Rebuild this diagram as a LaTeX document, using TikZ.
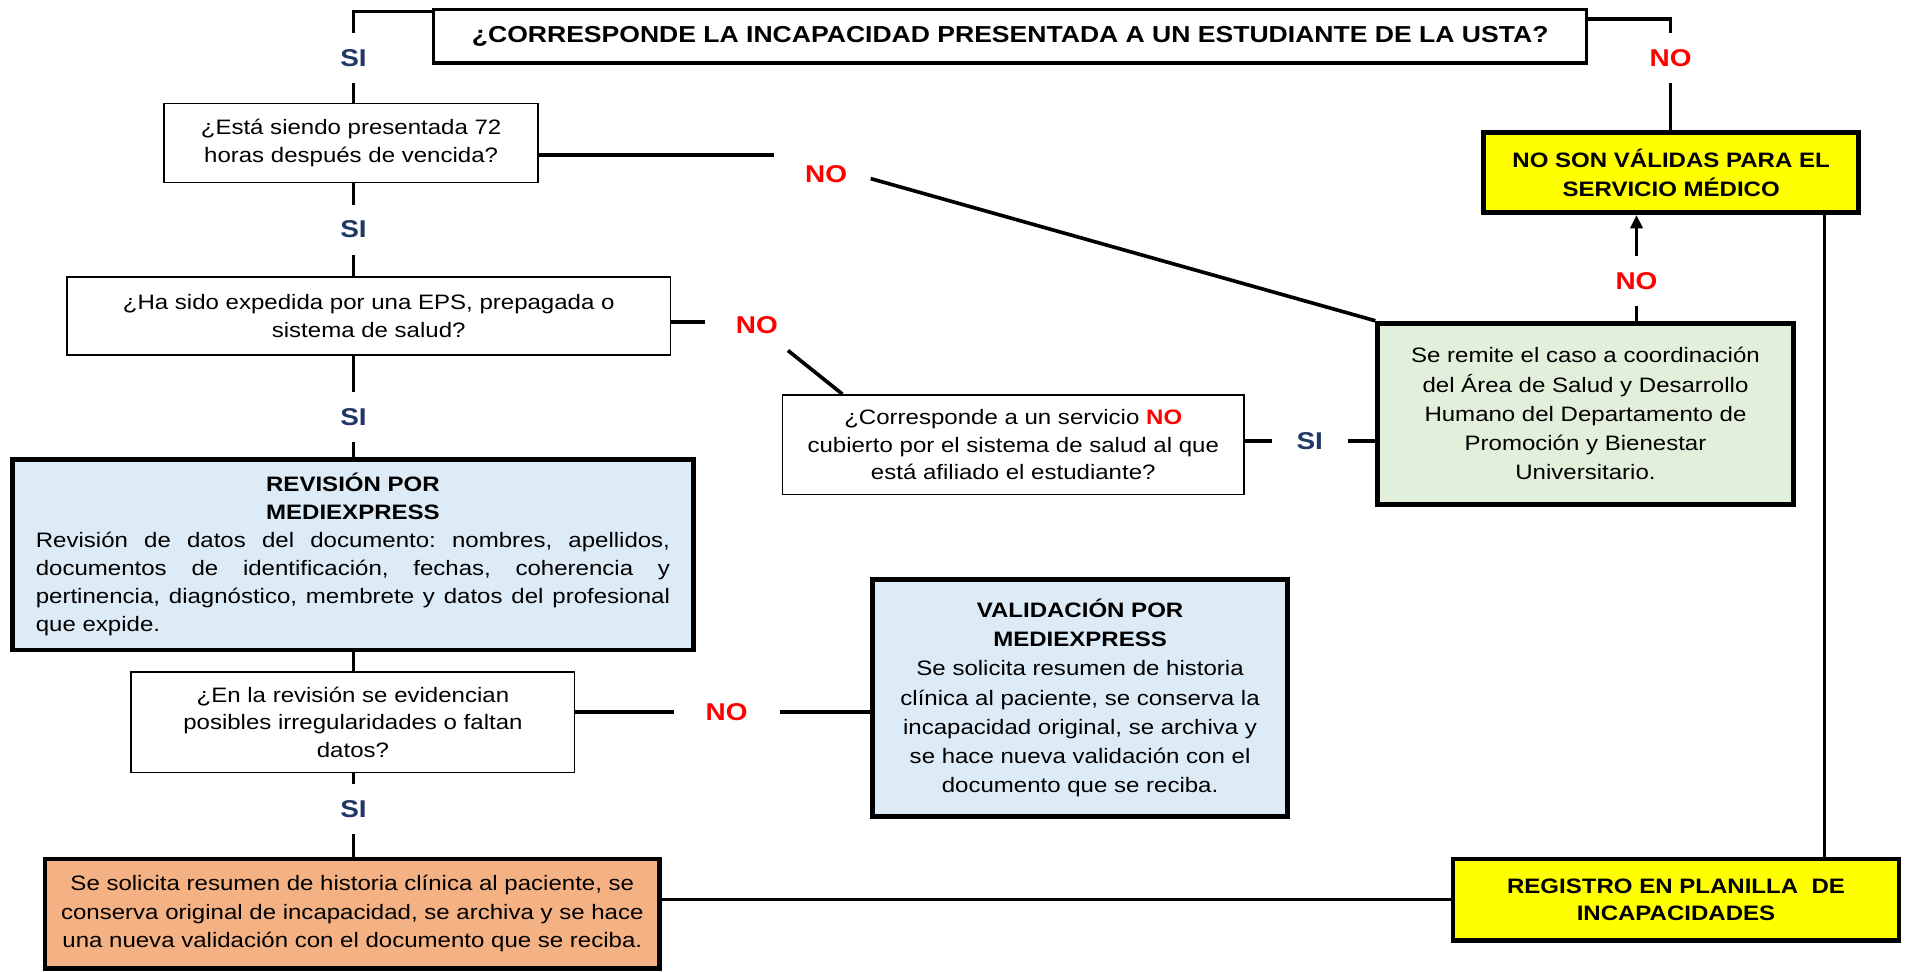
\documentclass[tikz,border=0pt]{standalone}
\usepackage{fontspec}
\setmainfont{Liberation Sans}[FakeStretch=1.15]
\usetikzlibrary{arrows.meta}
\definecolor{siblue}{RGB}{31,56,100}
\definecolor{nored}{RGB}{255,0,0}
\definecolor{boxblue}{RGB}{221,235,247}
\definecolor{boxgreen}{RGB}{226,239,218}
\definecolor{boxorange}{RGB}{244,177,131}
\definecolor{boxyellow}{RGB}{255,255,0}
\frenchspacing
\begin{document}
\begin{tikzpicture}[x=0.5pt,y=-0.5pt,
  font=\fontsize{8.6}{11.75}\selectfont,
  thinbox/.style={draw=black, line width=0.6pt, fill=white, inner sep=0pt, align=center},
  thickbox/.style={draw=black, line width=2pt, inner sep=0pt, align=center},
  topbox/.style={draw=black, line width=1.4pt, fill=white, inner sep=0pt, align=center,
    font=\fontsize{9.5}{11}\selectfont\bfseries},
  lbl/.style={font=\fontsize{10}{11}\selectfont\bfseries, inner ysep=6.5pt},
  silbl/.style={lbl, text=siblue, inner xsep=10pt},
  nolbl/.style={lbl, text=nored, inner xsep=13pt},
  conn/.style={line width=1.5pt},
  conntwo/.style={line width=1.2pt}]
\useasboundingbox (0,0) rectangle (1568,800);

% boxes
\node[topbox, minimum width=474.5pt, minimum height=22pt] (top) at (831.5,30)
  {¿CORRESPONDE LA INCAPACIDAD PRESENTADA A UN ESTUDIANTE DE LA USTA?};
\node[thinbox, minimum width=154pt, minimum height=32.5pt] (esta) at (289,117.5)
  {¿Está siendo presentada 72\\horas después de vencida?};
\node[thinbox, minimum width=248.5pt, minimum height=32pt] (hasido) at (303.5,260)
  {¿Ha sido expedida por una EPS, prepagada o\\sistema de salud?};
\node[thickbox, fill=boxblue, minimum width=280.5pt, minimum height=78.5pt, font=\fontsize{8.6}{11.5}\selectfont] (revision) at (290.5,456.5)
  {\parbox{261pt}{{\centering\bfseries REVISIÓN POR\\MEDIEXPRESS\par}
  Revisión de datos del documento: nombres, apellidos,\linebreak
  documentos de identificación, fechas, coherencia y\linebreak
  pertinencia, diagnóstico, membrete y datos del profesional\linebreak
  que expide.}};
\node[thinbox, minimum width=182.5pt, minimum height=41.5pt, font=\fontsize{8.6}{11.2}\selectfont] (enrev) at (290.5,594.5)
  {¿En la revisión se evidencian\\posibles irregularidades o faltan\\datos?};
\node[thickbox, fill=boxorange, minimum width=253pt, minimum height=45pt] (orange) at (290,752)
  {Se solicita resumen de historia clínica al paciente, se\\conserva original de incapacidad, se archiva y se hace\\una nueva validación con el documento que se reciba.};
\node[thinbox, minimum width=190pt, minimum height=41pt, font=\fontsize{8.6}{11.3}\selectfont] (corr) at (834,366)
  {¿Corresponde a un servicio \textcolor{nored}{\bfseries NO}\\cubierto por el sistema de salud al que\\está afiliado el estudiante?};
\node[thickbox, fill=boxgreen, minimum width=171pt, minimum height=74.5pt, font=\fontsize{8.6}{12}\selectfont] (green) at (1305,340.5)
  {Se remite el caso a coordinación\\del Área de Salud y Desarrollo\\Humano del Departamento de\\Promoción y Bienestar\\Universitario.};
\node[thickbox, fill=boxyellow, minimum width=154.5pt, minimum height=33pt, font=\fontsize{8.6}{12}\selectfont\bfseries] (novalid) at (1375.5,142)
  {NO SON VÁLIDAS PARA EL\\SERVICIO MÉDICO};
\node[thickbox, fill=boxblue, minimum width=171pt, minimum height=97.5pt, font=\fontsize{8.6}{12}\selectfont] (valid) at (889,574.5)
  {\textbf{VALIDACIÓN POR}\\\textbf{MEDIEXPRESS}\\Se solicita resumen de historia\\clínica al paciente, se conserva la\\incapacidad original, se archiva y\\se hace nueva validación con el\\documento que se reciba.};
\node[thickbox, fill=boxyellow, minimum width=183.5pt, minimum height=33.5pt, font=\fontsize{8.6}{11}\selectfont\bfseries] (reg) at (1379.5,740.5)
  {REGISTRO EN PLANILLA\ \ DE\\INCAPACIDADES};

% labels
\node[silbl] (si1) at (291,48) {SI};
\node[silbl] (si2) at (291,189) {SI};
\node[silbl] (si3) at (291,343) {SI};
\node[silbl] (si4) at (291,666) {SI};
\node[silbl] (si5) at (1078,363) {SI};
\node[nolbl] (no1) at (1375,48) {NO};
\node[nolbl] (no2) at (680,143) {NO};
\node[nolbl] (no3) at (623,268) {NO};
\node[nolbl] (no4) at (598,586) {NO};
\node[nolbl] (no5) at (1347,231) {NO};

% connectors
\draw[conn] ([yshift=-1.5pt]top.north west) -| (si1);
\draw[conn] (si1) -- (si1 |- esta.north);
\draw[conn] (esta.south -| si2) -- (si2);
\draw[conn] (si2) -- (si2 |- hasido.north);
\draw[conn] (hasido.south -| si3) -- (si3);
\draw[conn] (si3) -- (si3 |- revision.north);
\draw[conn] (revision.south -| si3) -- (enrev.north -| si3);
\draw[conn] (enrev.south -| si4) -- (si4);
\draw[conn] (si4) -- (si4 |- orange.north);

\draw[conn] ([yshift=-4.5pt]top.north east) -| (no1);
\draw[conn] (no1) -- (no1 |- novalid.north);

\coordinate (e1) at (637,127.6);
\draw[conn] (esta.east |- e1) -- (e1);
\draw[conn] ([xshift=-3.5pt,yshift=-2pt]no2.east) -- (green.north west);

\coordinate (h1) at (580,265);
\draw[conn] (hasido.east |- h1) -- (h1);
\draw[conn] (no3) -- ([xshift=25pt]corr.north west);

\draw[conn] (corr.east |- si5) -- (si5);
\draw[conn] (si5) -- (si5 -| green.west);

\draw[conn] (green.north -| no5) -- (no5);
\draw[conn, -{Triangle[length=5.5pt,width=5pt]}] (no5) -- (no5 |- novalid.south);

\coordinate (v1) at (1502,0);
\draw[conntwo] (novalid.south -| v1) -- (reg.north -| v1);
\draw[conntwo] (orange.east |- reg.west) -- (reg.west);

\draw[conn] (enrev.east |- no4) -- (no4);
\draw[conn] (no4) -- (no4 -| valid.west);
\end{tikzpicture}
\end{document}
